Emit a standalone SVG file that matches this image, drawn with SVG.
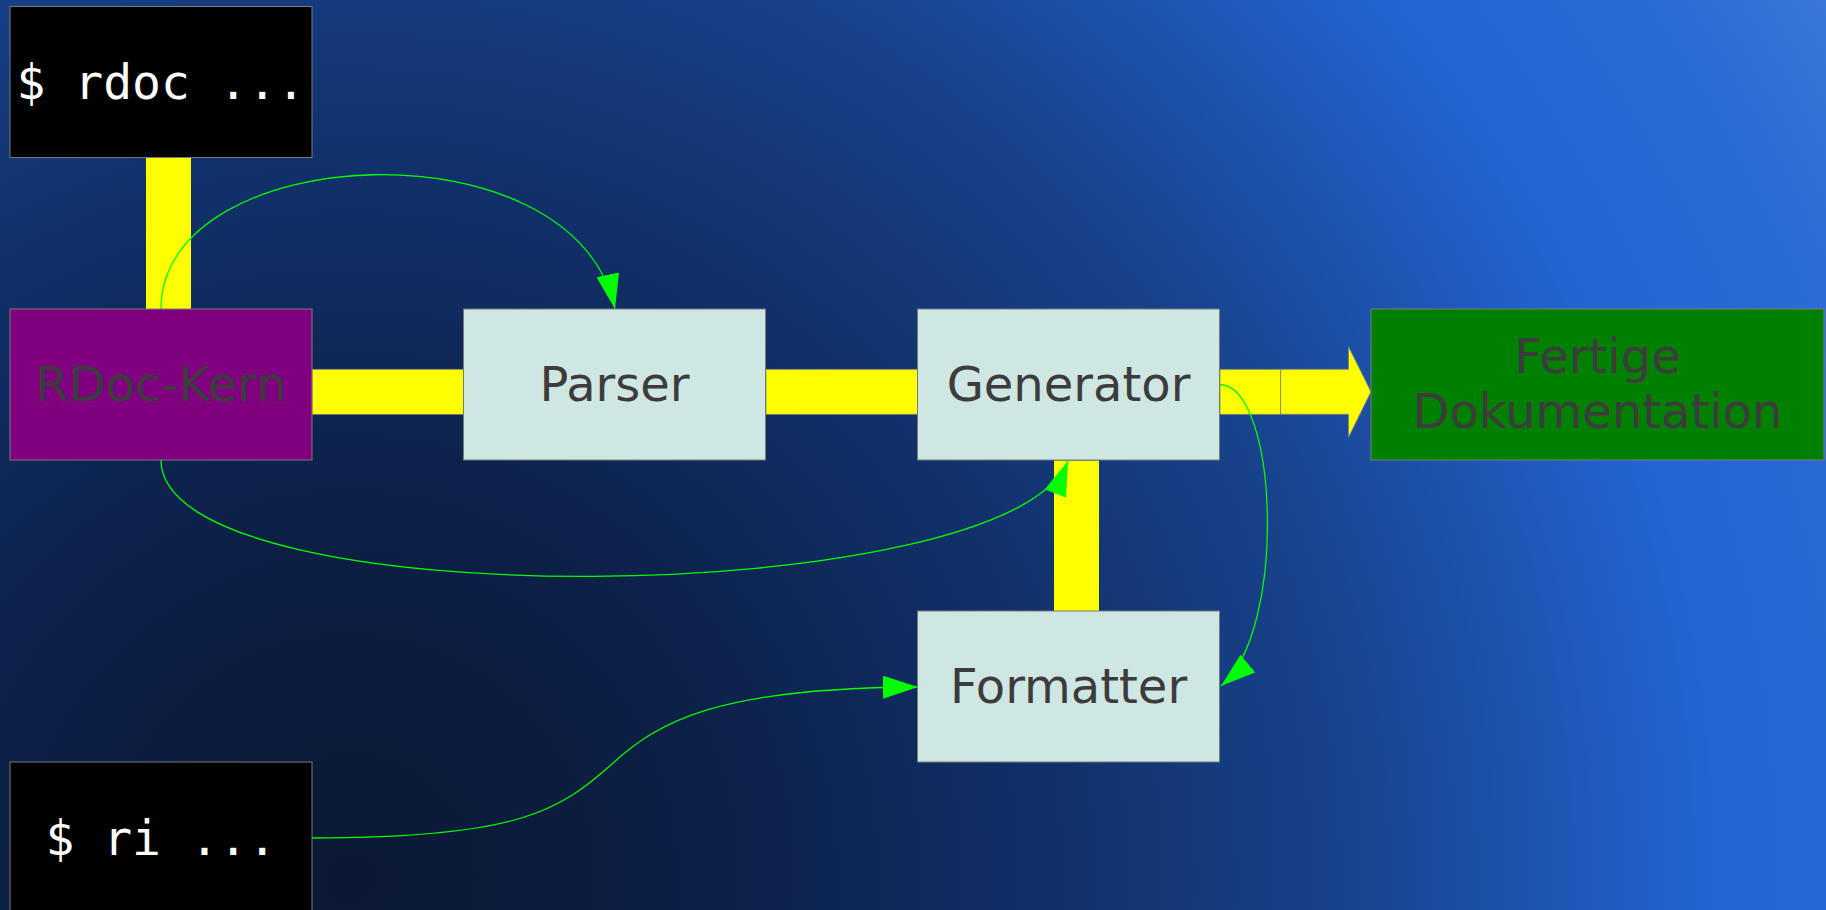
<svg xmlns="http://www.w3.org/2000/svg" width="1826" height="910" viewBox="0 0 1826 910">
<defs>
<radialGradient id="bg" gradientUnits="userSpaceOnUse" cx="350" cy="880" r="1760">
<stop offset="0" stop-color="#0a1833"/>
<stop offset="0.2" stop-color="#0c1f45"/>
<stop offset="0.4" stop-color="#11306a"/>
<stop offset="0.56" stop-color="#18418a"/>
<stop offset="0.78" stop-color="#2266d4"/>
<stop offset="0.9" stop-color="#2a6cd4"/>
<stop offset="1" stop-color="#3d7cd8"/>
</radialGradient>
<marker id="ah" markerUnits="userSpaceOnUse" markerWidth="35" markerHeight="23" refX="35" refY="11.5" orient="auto" viewBox="0 0 35 23">
<path d="M0,0 L35,11.5 L0,23 z" fill="#00ff00"/>
</marker>
<style>
.box{stroke:#7a7a7a;stroke-width:1}
.light{fill:#cfe7e3}
.lbl{font-family:"DejaVu Sans","Liberation Sans",sans-serif;font-size:48px;fill:#3c3c3c;text-anchor:middle}
.cmd{font-family:"DejaVu Sans Mono","Liberation Mono",monospace;font-size:48px;fill:#ffffff;text-anchor:middle}
.bar{fill:#ffff00}
.barh{fill:#ffff00;stroke:#808080;stroke-width:0.8}
.link{fill:none;stroke:#00ff00;stroke-width:1.3;marker-end:url(#ah)}
</style>
</defs>
<rect width="1826" height="910" fill="url(#bg)"/>
<g id="connectors">
<rect class="bar" x="146" y="157.5" width="45" height="151.5"/>
<rect class="barh" x="312" y="369.3" width="151.5" height="45"/>
<rect class="barh" x="766" y="369.3" width="151.5" height="45"/>
<rect class="bar" x="1054" y="460.5" width="45" height="150.5"/>
<rect class="barh" x="1220" y="369.3" width="60.6" height="45"/>
<polygon class="barh" points="1280.6,369.3 1348.5,369.3 1348.5,346.7 1371,391.8 1348.5,437.3 1348.5,414.3 1280.6,414.3"/>
<path class="link" d="M161,309 C161,140 575,120 615,309"/>
<path class="link" d="M161,460 C161,620 1010,610 1068,461"/>
<path class="link" d="M1220,384.5 C1278,386 1288,630 1221,686"/>
<path class="link" d="M312,838 C520,838 560,810 612,764 C660,720 720,688 918,687"/>
</g>
<g id="node-rdoc">
<rect class="box" x="10" y="6.5" width="302" height="151" fill="#000000"/>
<text class="cmd" x="161" y="99">$ rdoc ...</text>
</g>
<g id="node-kern">
<rect class="box" x="10" y="309" width="302" height="151" fill="#800080"/>
<text class="lbl" x="161" y="401">RDoc-Kern</text>
</g>
<g id="node-parser">
<rect class="box light" x="463.5" y="309" width="302" height="151"/>
<text class="lbl" x="614.5" y="401">Parser</text>
</g>
<g id="node-generator">
<rect class="box light" x="917.5" y="309" width="302" height="151"/>
<text class="lbl" x="1068.5" y="401">Generator</text>
</g>
<g id="node-formatter">
<rect class="box light" x="917.5" y="611" width="302" height="151"/>
<text class="lbl" x="1068.5" y="703">Formatter</text>
</g>
<g id="node-fertig">
<rect class="box" x="1371" y="309" width="453" height="151" fill="#008000"/>
<text class="lbl" x="1597.5" y="373.3">Fertige</text>
<text class="lbl" x="1597.5" y="428.3">Dokumentation</text>
</g>
<g id="node-ri">
<rect class="box" x="10" y="762" width="302" height="151" fill="#000000"/>
<text class="cmd" x="161" y="855">$ ri ...</text>
</g>
</svg>
